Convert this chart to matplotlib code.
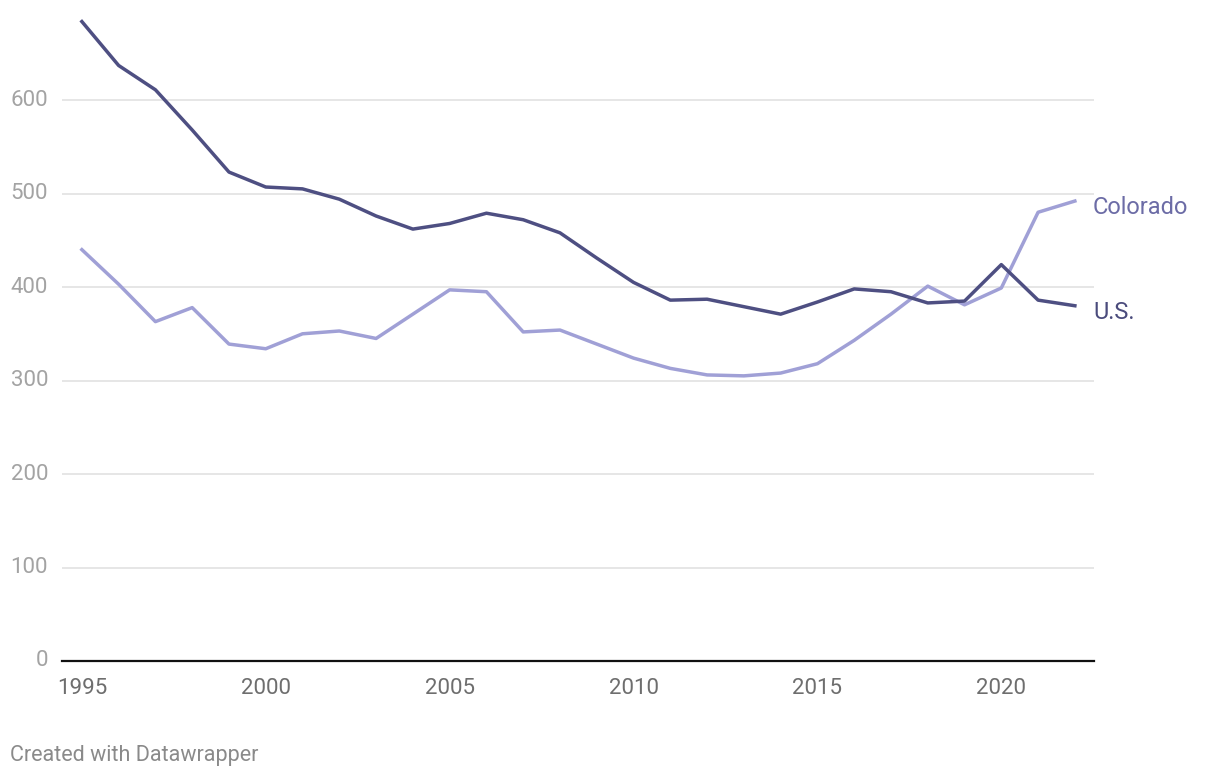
import matplotlib
matplotlib.use("Agg")
import matplotlib.pyplot as plt

plt.rcParams['font.family'] = ['Roboto', 'DejaVu Sans']

years = list(range(1995, 2023))
us = [684, 637, 611, 568, 523, 507, 505, 494, 476, 462, 468, 479, 472, 458,
      431, 405, 386, 387, 379, 371, 384, 398, 395, 383, 385, 424, 386, 380]
colorado = [440, 403, 363, 378, 339, 334, 350, 353, 345, 371, 397, 395, 352, 354,
            339, 324, 313, 306, 305, 308, 318, 343, 371, 401, 381, 399, 480, 492]
yticks = [0, 100, 200, 300, 400, 500, 600]
xticks = [1995, 2000, 2005, 2010, 2015, 2020]

fig = plt.figure(figsize=(12.2, 7.78), dpi=100)
ax = fig.add_axes([62/1220, 1 - 661/778, (1094 - 62)/1220, (661 - 15)/778])

ax.plot(years, colorado, color='#a0a0d6', lw=2.5, solid_joinstyle='round', zorder=3)
ax.plot(years, us, color='#4e4f82', lw=2.5, solid_joinstyle='round', zorder=4)

# direct labels at line ends
ax.annotate('Colorado', (years[-1], colorado[-1]), xytext=(13, -5), textcoords='offset points',
            va='center', ha='left', fontsize=17, color='#6c6ca6', annotation_clip=False)
ax.annotate('U.S.', (years[-1], us[-1]), xytext=(13, -5), textcoords='offset points',
            va='center', ha='left', fontsize=17, color='#4a4b7c', annotation_clip=False)

ax.set_xlim(1994.46, 2022.52)
ax.set_ylim(0, 691)
ax.set_yticks(yticks)
ax.set_xticks(xticks)
ax.grid(axis='y', color='#e2e2e2', lw=1.2)
ax.set_axisbelow(True)
for s in ['top', 'right', 'left']:
    ax.spines[s].set_visible(False)
ax.spines['bottom'].set_color('#111111')
ax.spines['bottom'].set_linewidth(1.6)
ax.spines['bottom'].set_zorder(5)

ax.tick_params(axis='y', length=0, pad=10, labelsize=16, labelcolor='#a3a3a3')
ax.tick_params(axis='x', length=0, pad=12, labelsize=16, labelcolor='#6e6e6e')
for lab in ax.get_yticklabels():
    lab.set_verticalalignment('center')

fig.text(10/1220, 1 - 755/778, 'Created with Datawrapper', fontsize=15.5, color='#8a8a8a',
         ha='left', va='center')

fig.savefig('out.png', dpi=100, facecolor='white')
